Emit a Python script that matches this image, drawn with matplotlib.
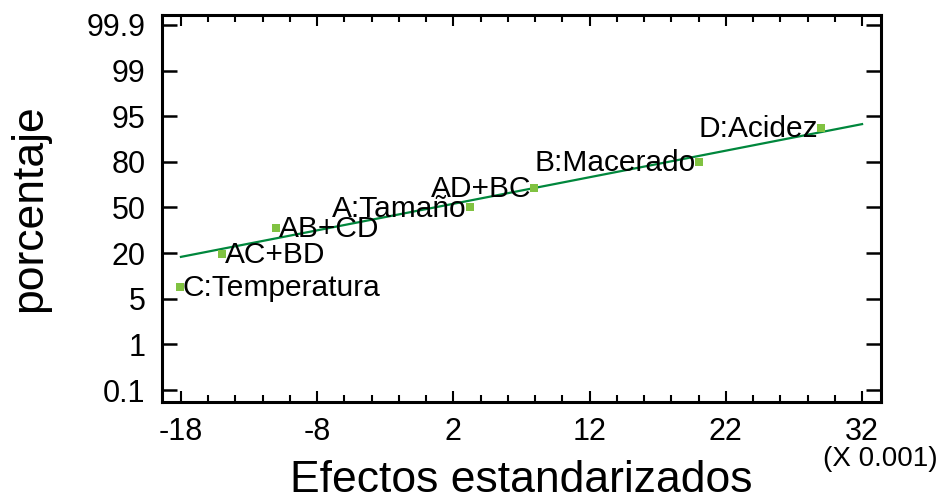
import numpy as np
import matplotlib
matplotlib.use("Agg")
import matplotlib.pyplot as plt
from matplotlib.ticker import FixedLocator
from statistics import NormalDist

plt.rcParams['font.family'] = ['Liberation Sans', 'DejaVu Sans']

# datos (efectos x 0.001, porcentaje acumulado)
labels = ['C:Temperatura', 'AC+BD', 'AB+CD', 'A:Tamaño', 'AD+BC', 'B:Macerado', 'D:Acidez']
efectos = [-18.1, -15.0, -11.0, 3.2, 7.95, 20.0, 29.0]
porcentaje = [7.5, 19.8, 35.3, 50.0, 64.2, 80.0, 92.5]
lado = ['left', 'left', 'left', 'right', 'right', 'right', 'right']

# recta de referencia (extremos)
linea_x = [-18.0, 32.0]
linea_pct = [18.2, 93.4]

ytick_vals = [0.1, 1, 5, 20, 50, 80, 95, 99, 99.9]
ytick_labels = ['0.1', '1', '5', '20', '50', '80', '95', '99', '99.9']

nd = NormalDist()
knot_z = np.array([nd.inv_cdf(v / 100.0) for v in ytick_vals])
knot_i = np.arange(len(ytick_vals), dtype=float)


def _z(p):
    p = np.asarray(p, dtype=float)
    res = np.full(p.size, np.nan)
    for k, v in enumerate(p.ravel()):
        if np.isfinite(v):
            q = min(max(v / 100.0, 1e-12), 1 - 1e-12)
            res[k] = nd.inv_cdf(q)
    return res.reshape(p.shape)


# escala de probabilidad normal (tramos lineales en z entre las marcas)
def fwd(p):
    z = _z(p)
    idx = np.interp(z, knot_z, knot_i)
    idx = np.where(z < knot_z[0], (z - knot_z[0]) / (knot_z[1] - knot_z[0]), idx)
    idx = np.where(z > knot_z[-1], knot_i[-1] + (z - knot_z[-1]) / (knot_z[-1] - knot_z[-2]), idx)
    return idx


def inv(idx):
    idx = np.asarray(idx, dtype=float)
    z = np.interp(idx, knot_i, knot_z)
    z = np.where(idx < 0, knot_z[0] + idx * (knot_z[1] - knot_z[0]), z)
    z = np.where(idx > knot_i[-1], knot_z[-1] + (idx - knot_i[-1]) * (knot_z[-1] - knot_z[-2]), z)
    res = np.array([nd.cdf(v) * 100.0 if np.isfinite(v) else np.nan for v in z.ravel()])
    return res.reshape(z.shape)


fig = plt.figure(figsize=(9.45, 5.01), dpi=100)
ax = fig.add_axes([162 / 945, 1 - 402 / 501, (881 - 162) / 945, (402 - 15) / 501])
ax.set_yscale('function', functions=(fwd, inv))

ax.plot(linea_x, linea_pct, color='#00873c', lw=1.6, zorder=2)
ax.plot(efectos, porcentaje, 's', color='#80c241', ms=5.2, mew=0, zorder=3)

for lab, x, y, h in zip(labels, efectos, porcentaje, lado):
    dx = 2 if h == 'left' else -2
    ax.annotate(lab, (x, y), xytext=(dx, -1), textcoords='offset points',
                ha=h, va='center', fontsize=21.5, color='black', zorder=4)

ax.set_xlim(-19.39, 33.39)
ax.set_ylim(inv(-0.263), inv(8.219))

ax.set_xticks(np.arange(-18, 33, 10))
ax.set_xticklabels(['-18', '-8', '2', '12', '22', '32'])
ax.xaxis.set_minor_locator(FixedLocator(np.arange(-18, 33, 2)))
ax.yaxis.set_major_locator(FixedLocator(ytick_vals))
ax.set_yticklabels(ytick_labels)
ax.yaxis.set_minor_locator(FixedLocator([]))

ax.tick_params(axis='x', which='major', direction='in', length=8, width=1.5,
               top=True, bottom=True, labelsize=22, pad=11)
ax.tick_params(axis='x', which='minor', direction='in', length=5, width=1.5,
               top=True, bottom=True)
ax.tick_params(axis='y', which='major', direction='in', length=11, width=1.8,
               left=True, right=True, labelsize=22, pad=12)

for s in ax.spines.values():
    s.set_linewidth(2.2)

fig.text(521 / 945, 1 - 481 / 501, 'Efectos estandarizados', ha='center', va='center', fontsize=32)
fig.text(30 / 945, 1 - 208 / 501, 'porcentaje', ha='center', va='center', fontsize=32, rotation=90)
fig.text(880 / 945, 1 - 459 / 501, '(X 0.001)', ha='center', va='center', fontsize=20)

fig.savefig('out.png', dpi=100)
